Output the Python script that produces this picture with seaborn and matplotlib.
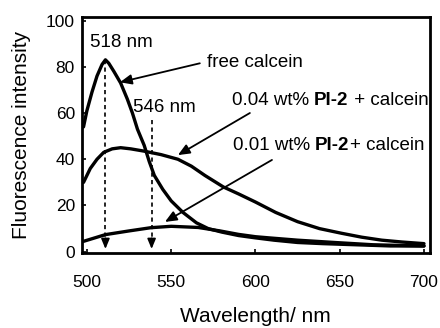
import matplotlib
matplotlib.use('Agg')
import matplotlib.pyplot as plt
import pandas as pd
import seaborn as sns

# spectra (wavelength in nm, intensity in a.u.)
wl_free = [498, 500, 503, 506, 509, 511, 513, 516, 520, 524, 527, 530, 534, 537, 540,
           545, 550, 557, 565, 572, 580, 590, 600, 611, 625, 640, 660, 680, 700]
free_calcein = [54, 61, 69, 76, 81, 83, 81.5, 78, 73, 66, 60, 53, 46, 39, 33,
                27, 22, 17, 12.5, 10, 8.5, 7, 6, 5, 4, 3.5, 3, 2.5, 2.5]

wl_004 = [498, 502, 506, 510, 515, 520, 526, 534, 544, 554, 562, 570, 581, 590, 600,
          612, 625, 638, 651, 663, 675, 687, 700]
pi2_004 = [30, 36, 40, 43, 44.5, 45, 44.5, 43.5, 42, 40, 37, 33, 28, 25, 21.5,
           17, 13, 10, 8, 6.3, 5, 4.2, 3.5]

wl_001 = [498, 511, 525, 538, 550, 566, 579, 590, 600, 608, 625, 647, 670, 700]
pi2_001 = [4.5, 7.4, 9, 10.4, 11, 10.5, 9, 7.5, 6.5, 6, 5, 4, 3, 2.5]

peaks = [511, 538.4]          # where the dashed markers are drawn
peak_tops = [83, 57]
peak_labels = ['518 nm', '546 nm']
xticks = [500, 550, 600, 650, 700]
yticks = [0, 20, 40, 60, 80, 100]

sns.set_style('ticks')
plt.rcParams['font.family'] = ['Liberation Sans', 'DejaVu Sans']
plt.rcParams['text.color'] = 'black'
plt.rcParams['axes.labelcolor'] = 'black'
plt.rcParams['xtick.color'] = 'black'
plt.rcParams['ytick.color'] = 'black'

df_free = pd.DataFrame({'wl': wl_free, 'val': free_calcein})
df_004 = pd.DataFrame({'wl': wl_004, 'val': pi2_004})
df_001 = pd.DataFrame({'wl': wl_001, 'val': pi2_001})

fig = plt.figure(figsize=(4.4, 3.28), dpi=100)
ax = fig.add_axes([0.186, 0.229, 0.791, 0.719])

for d in [df_free, df_004, df_001]:
    sns.lineplot(data=d, x='wl', y='val', ax=ax, color='black', linewidth=2.4)

# dashed peak markers with arrowheads at the bottom
for p, top in zip(peaks, peak_tops):
    ax.plot([p, p], [top, 3], color='black', linestyle=(0, (2.5, 2)), linewidth=1.2)
    ax.annotate('', xy=(p, 0), xytext=(p, 7),
                arrowprops=dict(arrowstyle='-|>,head_length=0.6,head_width=0.25',
                                color='black', lw=1.2))

ax.text(501.8, 90.5, peak_labels[0], fontsize=13.5, va='center', ha='left')
ax.text(527.3, 62.5, peak_labels[1], fontsize=13.5, va='center', ha='left')

arrow = dict(arrowstyle='-|>,head_length=0.7,head_width=0.3', color='black', lw=1.3,
             shrinkA=0, shrinkB=0)

ax.annotate('', xy=(519.6, 73.3), xytext=(567, 81.5), arrowprops=arrow)
ax.text(571.2, 81.9, 'free calcein', fontsize=13.5, va='center', ha='left')

ax.annotate('', xy=(554, 41.8), xytext=(596.7, 60), arrowprops=arrow)
t1 = ax.text(586, 65.5, '0.04 wt% ', fontsize=13.5, va='center', ha='left')
t2 = ax.annotate('PI-2', xy=(1, 0), xycoords=t1, va='bottom', ha='left',
                 fontsize=13.5, fontweight='bold')
ax.annotate(' + calcein', xy=(1, 0), xycoords=t2, va='bottom', ha='left', fontsize=13.5)

ax.annotate('', xy=(546.3, 12.9), xytext=(609.8, 39.7), arrowprops=arrow)
t3 = ax.text(586.6, 46, '0.01 wt% ', fontsize=13.5, va='center', ha='left')
t4 = ax.annotate('PI-2', xy=(1, 0), xycoords=t3, va='bottom', ha='left',
                 fontsize=13.5, fontweight='bold')
ax.annotate('+ calcein', xy=(1, 0), xycoords=t4, va='bottom', ha='left', fontsize=13.5)

ax.set_xlim(497, 703.5)
ax.set_ylim(-0.5, 101.5)
ax.set_xticks(xticks)
ax.set_yticks(yticks)
ax.tick_params(direction='in', length=3, width=1.2, labelsize=12.5, pad=5)
ax.tick_params(axis='x', pad=16)
for s in ax.spines.values():
    s.set_linewidth(2)
    s.set_color('black')

ax.set_xlabel('Wavelength/ nm', fontsize=15)
ax.xaxis.set_label_coords(0.5, -0.27)
ax.xaxis.label.set_va('center')
ax.set_ylabel('Fluorescence intensity', fontsize=15, labelpad=11)

fig.savefig('out.png', dpi=100)
